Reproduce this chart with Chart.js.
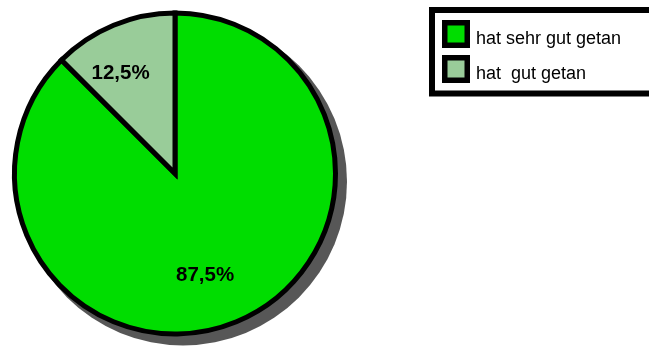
<!DOCTYPE html>
<html>
<head>
<meta charset="utf-8">
<script src="https://cdn.jsdelivr.net/npm/chart.js@4"></script>
<style>
  html, body { margin: 0; padding: 0; background: #ffffff; }
  #wrap { width: 649px; height: 349px; position: relative; }
</style>
</head>
<body>
<div id="wrap"><canvas id="c" width="649" height="349"></canvas></div>
<script>
const categories = ['hat sehr gut getan', 'hat  gut getan'];
const values = [87.5, 12.5];
const valueLabels = ['87,5%', '12,5%'];
const colors = ['rgb(0,221,0)', '#99cc99'];

// label placement: fraction of radius and angular shift (deg) from slice middle
const labelPlace = [{f: 0.66, shift: 6}, {f: 0.71, shift: -6}];

const shadowPlugin = {
  id: 'pieShadow',
  beforeDatasetsDraw(chart) {
    const arc = chart.getDatasetMeta(0).data[0];
    if (!arc) return;
    const ctx = chart.ctx;
    const bw = 5;
    ctx.save();
    ctx.fillStyle = '#575757';
    ctx.beginPath();
    ctx.arc(arc.x + 8, arc.y + 8, arc.outerRadius + bw / 2 + 1, 0, Math.PI * 2);
    ctx.fill();
    ctx.restore();
  }
};

const labelPlugin = {
  id: 'pieLabels',
  afterDatasetsDraw(chart) {
    const meta = chart.getDatasetMeta(0);
    const ctx = chart.ctx;
    ctx.save();
    ctx.fillStyle = '#000';
    ctx.font = 'bold 20.5px "Liberation Sans", Arial, sans-serif';
    ctx.textAlign = 'center';
    ctx.textBaseline = 'middle';
    meta.data.forEach((arc, i) => {
      const mid = (arc.startAngle + arc.endAngle) / 2 + labelPlace[i].shift * Math.PI / 180;
      const r = arc.outerRadius * labelPlace[i].f;
      ctx.fillText(valueLabels[i], arc.x + Math.cos(mid) * r, arc.y + Math.sin(mid) * r);
    });
    ctx.restore();
  }
};

const legendPlugin = {
  id: 'boxLegend',
  afterDraw(chart) {
    const ctx = chart.ctx;
    ctx.save();
    ctx.fillStyle = '#ffffff';
    ctx.fillRect(432, 10, 230, 83.5);
    ctx.strokeStyle = '#000';
    ctx.lineWidth = 6;
    ctx.strokeRect(432, 10, 230, 83.5);
    ctx.font = '18px "Liberation Sans", Arial, sans-serif';
    ctx.textBaseline = 'alphabetic';
    ctx.textAlign = 'left';
    categories.forEach((cat, i) => {
      const y = 20 + i * 35;
      ctx.fillStyle = '#000';
      ctx.fillRect(442, y, 28, 28);
      ctx.fillStyle = colors[i];
      ctx.fillRect(447.5, y + 5.5, 17, 17);
      ctx.fillStyle = '#000';
      ctx.fillText(cat, 476, y + 23.5);
    });
    ctx.restore();
  }
};

new Chart(document.getElementById('c'), {
  type: 'pie',
  data: {
    labels: categories,
    datasets: [{
      data: values,
      backgroundColor: colors,
      borderColor: '#000000',
      borderWidth: 5,
      borderJoinStyle: 'miter'
    }]
  },
  options: {
    responsive: false,
    animation: false,
    rotation: 0,
    layout: { padding: { left: 12, top: 10, right: 311, bottom: 12 } },
    plugins: {
      legend: { display: false },
      tooltip: { enabled: false }
    }
  },
  plugins: [shadowPlugin, labelPlugin, legendPlugin]
});
</script>
</body>
</html>
